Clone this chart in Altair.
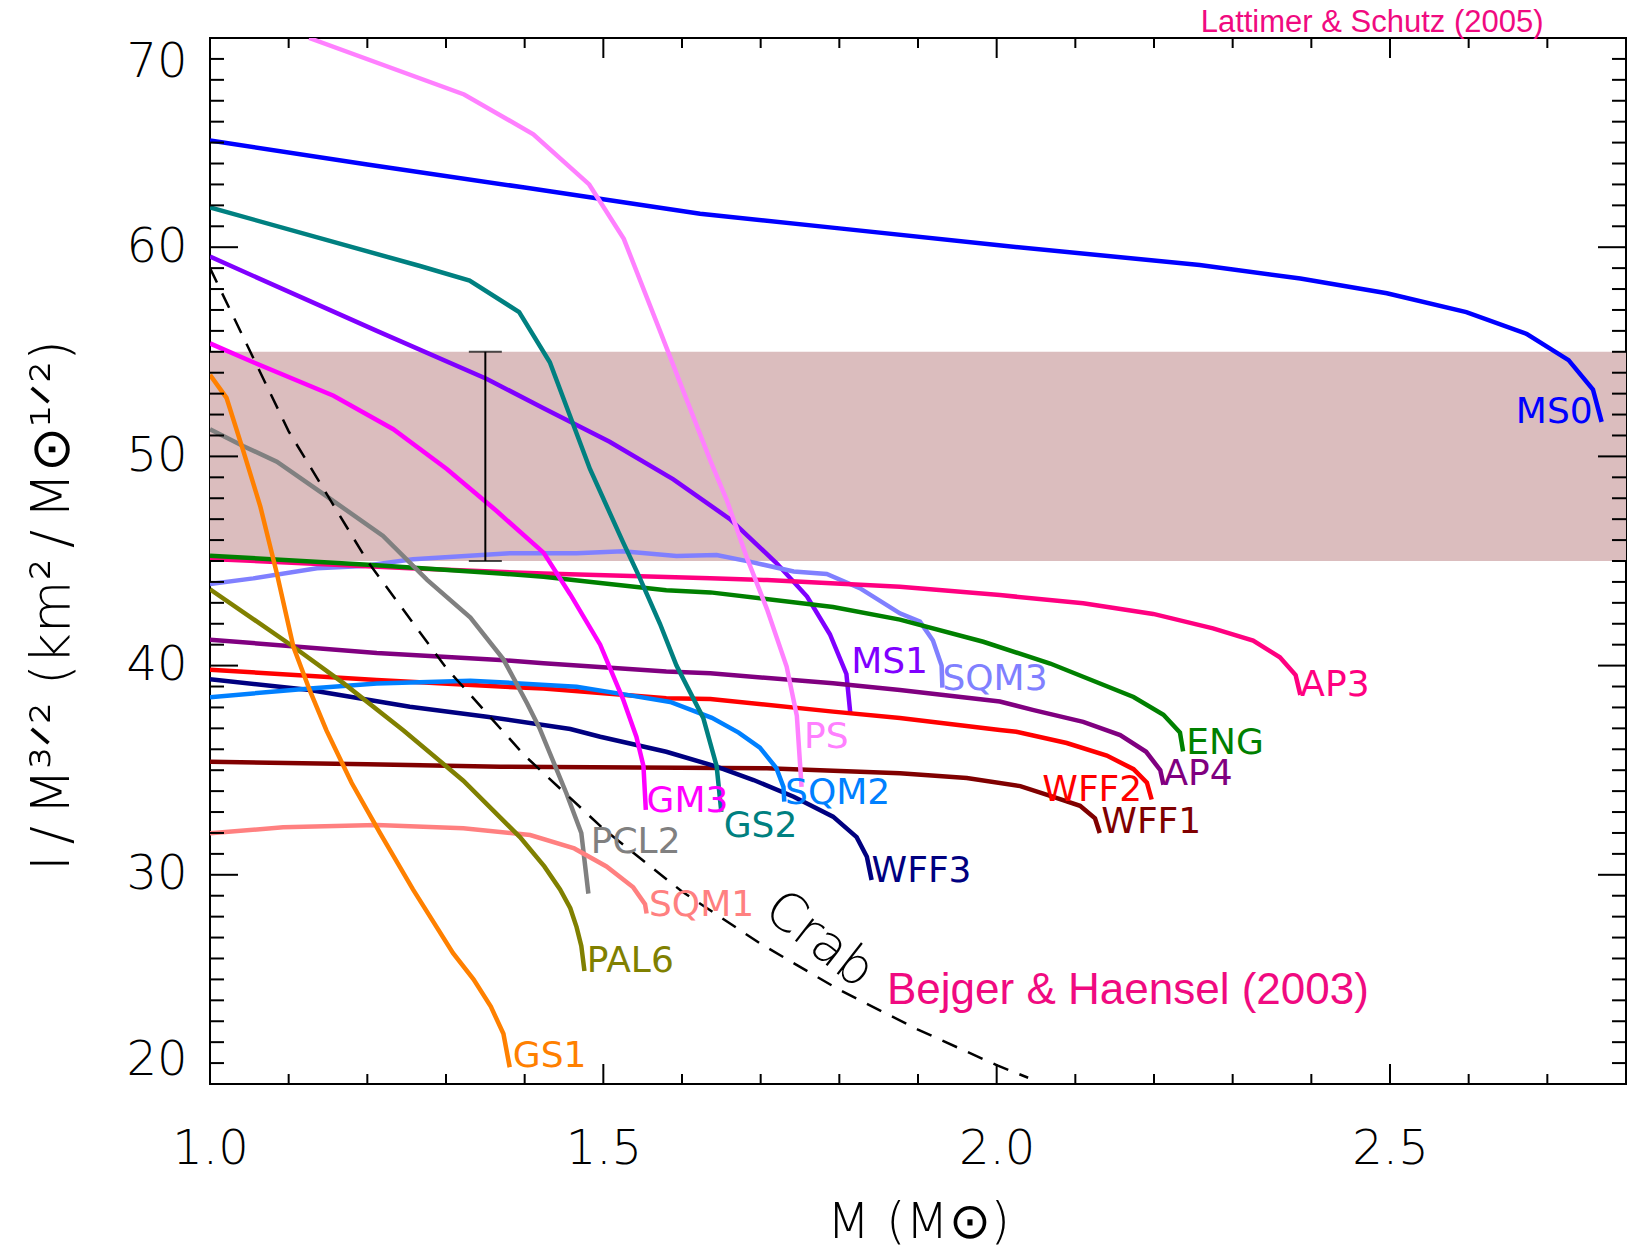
import altair as alt
import pandas as pd

# ---------------- data ----------------
MS0_M = [1.0, 1.2, 1.4, 1.623, 1.8, 2.0, 2.258, 2.386, 2.496, 2.597, 2.674, 2.727, 2.758, 2.769]
MS0_I = [65.1, 63.95, 62.85, 61.6, 60.9, 60.1, 59.15, 58.5, 57.8, 56.9, 55.85, 54.6, 53.2, 51.65]

MS1_M = [1.0, 1.212, 1.352, 1.424, 1.508, 1.589, 1.661, 1.72, 1.759, 1.788, 1.809, 1.814]
MS1_I = [59.55, 56.0, 53.7, 52.3, 50.7, 48.9, 47.0, 44.9, 43.3, 41.5, 39.6, 37.7]

GS2_M = [1.0, 1.267, 1.33, 1.393, 1.432, 1.483, 1.525, 1.545, 1.572, 1.593, 1.627, 1.644, 1.650]
GS2_I = [61.9, 59.1, 58.4, 56.9, 54.5, 49.4, 45.9, 44.3, 42.0, 40.0, 37.5, 35.2, 33.0]

PS_M = [1.126, 1.323, 1.411, 1.482, 1.526, 1.572, 1.636, 1.657, 1.682, 1.708, 1.733, 1.746, 1.752]
PS_I = [70.0, 67.3, 65.4, 63.0, 60.4, 56.0, 49.8, 47.9, 45.2, 42.7, 39.95, 37.6, 34.2]

GM3_M = [1.0, 1.055, 1.157, 1.233, 1.301, 1.364, 1.424, 1.458, 1.496, 1.525, 1.542, 1.551, 1.554]
GM3_I = [55.4, 54.5, 52.9, 51.3, 49.4, 47.4, 45.4, 43.4, 41.0, 38.4, 36.6, 35.2, 33.1]

GS1_M = [1.0, 1.021, 1.042, 1.064, 1.085, 1.106, 1.127, 1.148, 1.18, 1.216, 1.258, 1.309, 1.335, 1.357, 1.373, 1.381]
GS1_I = [53.9, 52.8, 50.3, 47.6, 44.4, 40.9, 38.8, 36.9, 34.4, 32.0, 29.3, 26.25, 25.0, 23.7, 22.4, 20.8]

PCL2_M = [1.0, 1.042, 1.085, 1.148, 1.22, 1.276, 1.331, 1.373, 1.403, 1.419, 1.453, 1.472, 1.481]
PCL2_I = [51.3, 50.5, 49.75, 48.1, 46.2, 44.1, 42.3, 40.3, 38.2, 37.0, 33.9, 32.0, 29.1]

PAL6_M = [1.0, 1.106, 1.17, 1.246, 1.322, 1.394, 1.425, 1.445, 1.458, 1.466, 1.472, 1.476]
PAL6_I = [43.65, 40.9, 39.15, 36.9, 34.5, 31.8, 30.4, 29.3, 28.4, 27.5, 26.6, 25.4]

SQM1_M = [1.0, 1.093, 1.212, 1.322, 1.407, 1.463, 1.504, 1.538, 1.553, 1.555]
SQM1_I = [31.98, 32.27, 32.38, 32.22, 31.9, 31.26, 30.4, 29.4, 28.6, 28.15]

SQM3_M = [1.0, 1.055, 1.136, 1.195, 1.258, 1.381, 1.466, 1.525, 1.593, 1.644, 1.686, 1.742, 1.784,
          1.826, 1.877, 1.9025, 1.919, 1.93, 1.931]
SQM3_I = [43.9, 44.17, 44.65, 44.76, 45.08, 45.37, 45.37, 45.47, 45.24, 45.29, 44.97, 44.5, 44.38,
          43.7, 42.5, 42.1, 41.2, 40.0, 38.95]

AP3_M = [1.0, 1.254, 1.424, 1.636, 1.708, 1.877, 2.004, 2.11, 2.199, 2.275, 2.326, 2.36, 2.38, 2.386]
AP3_I = [45.1, 44.65, 44.4, 44.17, 44.09, 43.77, 43.37, 42.98, 42.47, 41.78, 41.2, 40.4, 39.55, 38.6]

ENG_M = [1.0, 1.212, 1.369, 1.424, 1.58, 1.636, 1.792, 1.877, 1.983, 2.068, 2.174, 2.212, 2.233, 2.237]
ENG_I = [45.25, 44.8, 44.4, 44.25, 43.6, 43.5, 42.8, 42.2, 41.14, 40.1, 38.5, 37.65, 36.8, 35.9]

AP4_M = [1.0, 1.212, 1.369, 1.424, 1.58, 1.636, 1.792, 1.877, 2.004, 2.047, 2.11, 2.157, 2.19, 2.208, 2.212]
AP4_I = [41.24, 40.6, 40.27, 40.11, 39.72, 39.63, 39.16, 38.83, 38.28, 37.87, 37.31, 36.68, 35.88, 35.0, 34.3]

WFF2_M = [1.0, 1.212, 1.369, 1.424, 1.58, 1.636, 1.792, 1.877, 2.004, 2.025, 2.089, 2.14, 2.174, 2.191, 2.197]
WFF2_I = [39.8, 39.31, 39.0, 38.9, 38.44, 38.4, 37.8, 37.5, 36.92, 36.84, 36.3, 35.7, 35.05, 34.4, 33.6]

WFF3_M = [1.0, 1.127, 1.254, 1.352, 1.458, 1.496, 1.58, 1.644, 1.691, 1.742, 1.792, 1.822, 1.835, 1.841]
WFF3_I = [39.35, 38.83, 38.03, 37.56, 36.97, 36.6, 35.88, 35.17, 34.53, 33.73, 32.78, 31.8, 30.86, 29.75]

SQM2_M = [1.0, 1.127, 1.212, 1.331, 1.394, 1.466, 1.53, 1.585, 1.638, 1.672, 1.699, 1.72, 1.729, 1.73]
SQM2_I = [38.49, 38.91, 39.15, 39.28, 39.15, 38.99, 38.6, 38.26, 37.5, 36.8, 36.08, 35.1, 34.2, 33.5]

WFF1_M = [1.0, 1.2, 1.369, 1.708, 1.877, 1.962, 2.03, 2.072, 2.106, 2.125, 2.131]
WFF1_I = [35.4, 35.28, 35.17, 35.09, 34.85, 34.63, 34.24, 33.73, 33.3, 32.7, 32.0]

CRAB_M = [1.0, 1.1, 1.2, 1.3, 1.4, 1.5, 1.6, 1.7, 1.8, 1.9, 2.0, 2.04]
CRAB_I = [59.0, 51.2, 45.0, 39.9, 35.7, 32.2, 29.2, 26.7, 24.5, 22.6, 20.9, 20.3]

BAND_LO = [45.0]
BAND_HI = [55.0]
ERR_M = [1.35]

eos_names = ["MS0", "MS1", "SQM3", "AP3", "ENG", "AP4", "WFF2", "WFF1", "WFF3", "SQM2",
             "PS", "GM3", "GS2", "PCL2", "SQM1", "PAL6", "GS1"]
eos_colors = ["#0000ff", "#8000ff", "#8080ff", "#ff0080", "#008000", "#800080", "#ff0000",
              "#800000", "#000080", "#0080ff", "#ff80ff", "#ff00ff", "#008080", "#808080",
              "#ff8080", "#808000", "#ff8000"]

label_M = [2.660, 1.815, 1.931, 2.386, 2.241, 2.212, 2.058, 2.133, 1.841, 1.731,
           1.755, 1.555, 1.653, 1.484, 1.558, 1.479, 1.385]
label_I = [51.58, 39.66, 38.83, 38.55, 35.77, 34.29, 33.54, 31.98, 29.67, 33.38,
           36.05, 33.02, 31.82, 31.03, 28.03, 25.37, 20.8]

x_major = [1.0, 1.5, 2.0, 2.5]
x_minor = [1.1, 1.2, 1.3, 1.4, 1.6, 1.7, 1.8, 1.9, 2.1, 2.2, 2.3, 2.4, 2.6, 2.7]
y_major = [20, 30, 40, 50, 60, 70]
y_minor = [v for v in range(21, 70) if v % 10 != 0]

# ---------------- build ----------------
curves = {
    "MS0": (MS0_M, MS0_I), "MS1": (MS1_M, MS1_I), "SQM3": (SQM3_M, SQM3_I),
    "AP3": (AP3_M, AP3_I), "ENG": (ENG_M, ENG_I), "AP4": (AP4_M, AP4_I),
    "WFF2": (WFF2_M, WFF2_I), "WFF1": (WFF1_M, WFF1_I), "WFF3": (WFF3_M, WFF3_I),
    "SQM2": (SQM2_M, SQM2_I), "PS": (PS_M, PS_I), "GM3": (GM3_M, GM3_I),
    "GS2": (GS2_M, GS2_I), "PCL2": (PCL2_M, PCL2_I), "SQM1": (SQM1_M, SQM1_I),
    "PAL6": (PAL6_M, PAL6_I), "GS1": (GS1_M, GS1_I),
}
rows = []
for name, (ms, ii) in curves.items():
    for k, (m, i) in enumerate(zip(ms, ii)):
        rows.append({"eos": name, "M": m, "I": i, "k": k})
df = pd.DataFrame(rows)
crab_df = pd.DataFrame({"M": CRAB_M, "I": CRAB_I, "k": list(range(len(CRAB_M)))})
lab_df = pd.DataFrame({"eos": eos_names, "M": label_M, "I": label_I})

W, H = 1416, 1046
FONT = "DejaVu Sans"
xs = alt.Scale(domain=[1.0, 2.8], nice=False, zero=False)
ys = alt.Scale(domain=[20, 70], nice=False, zero=False)
cs = alt.Scale(domain=eos_names, range=eos_colors)

x_axis = alt.Axis(values=x_major, format=".1f", labelFontSize=48, labelFont=FONT,
                  labelFontWeight=200, labelPadding=41, labelFlush=False, labelColor="black",
                  labelOverlap=False, ticks=False, domain=False, grid=False,
                  title="M  (M⊙)", titleFont=FONT, titleFontSize=50, titleFontWeight=200,
                  titleColor="black", titleY=153, titleBaseline="alphabetic")
y_axis = alt.Axis(values=y_major, labelFontSize=48, labelFont=FONT, labelFontWeight=200,
                  labelPadding=23, labelFlush=True, labelColor="black", labelOverlap=False,
                  ticks=False, domain=False, grid=False,
                  title="I\u2009/\u2009M³ᐟ²   (km²\u2009/\u2009M⊙¹ᐟ²)", titleFont=FONT, titleFontSize=54,
                  titleFontWeight=200, titleColor="black", titleAngle=270, titleX=-142,
                  titleY=567, titleAlign="center", titleBaseline="alphabetic")


def X(field):
    return alt.X(field, scale=xs, axis=x_axis)


def Y(field):
    return alt.Y(field, scale=ys, axis=y_axis)


band = alt.Chart(pd.DataFrame({"lo": BAND_LO, "hi": BAND_HI})).mark_rect(color="#dbbdbe").encode(
    x=alt.value(0), x2=alt.value(W), y=Y("lo:Q"), y2="hi:Q")

lines = alt.Chart(df).mark_line(strokeWidth=4.5, clip=True, strokeCap="butt").encode(
    x=X("M:Q"), y=Y("I:Q"),
    color=alt.Color("eos:N", scale=cs, legend=None),
    detail="eos:N", order="k:Q")

err = alt.Chart(pd.DataFrame({"m": ERR_M, "lo": BAND_LO, "hi": BAND_HI})).mark_rule(
    color="black", strokeWidth=2).encode(x=X("m:Q"), y=Y("lo:Q"), y2="hi:Q")
caps = alt.Chart(pd.DataFrame({"m": ERR_M * 2, "v": BAND_LO + BAND_HI})).mark_tick(
    orient="horizontal", size=33, thickness=2, color="black").encode(x=X("m:Q"), y=Y("v:Q"))

crab = alt.Chart(crab_df).mark_line(color="black", strokeWidth=2.5, strokeDash=[16, 12], clip=True).encode(
    x=X("M:Q"), y=Y("I:Q"), order="k:Q")

labels = alt.Chart(lab_df).mark_text(align="left", baseline="alphabetic", fontSize=36,
                                     font=FONT).encode(
    x=X("M:Q"), y=Y("I:Q"), text="eos:N", color=alt.Color("eos:N", scale=cs, legend=None))

notes = pd.DataFrame({"M": [1.775], "I": [26.9], "t": ["Crab"]})
crab_txt = alt.Chart(notes).mark_text(angle=38, fontSize=52, font=FONT, fontWeight=200,
                                      color="black", align="center", baseline="middle").encode(
    x=X("M:Q"), y=Y("I:Q"), text="t:N")

refs = pd.DataFrame({"M": [1.8606, 2.2593], "I": [23.82, 70.29],
                     "t": ["Bejger & Haensel (2003)", "Lattimer & Schutz (2005)"],
                     "s": [44, 31]})
ref_txt = alt.Chart(refs).mark_text(align="left", baseline="alphabetic", font="Liberation Sans",
                                    color="#f00a80").encode(
    x=X("M:Q"), y=Y("I:Q"), text="t:N",
    size=alt.Size("s:Q", scale=None, legend=None))


def xticks(vals, length, top):
    enc = dict(y=alt.value(0), y2=alt.value(length)) if top else dict(y=alt.value(H), y2=alt.value(H - length))
    return alt.Chart(pd.DataFrame({"v": vals})).mark_rule(color="black", strokeWidth=2).encode(
        x=X("v:Q"), **enc)


def yticks(vals, length, right):
    enc = dict(x=alt.value(W), x2=alt.value(W - length)) if right else dict(x=alt.value(0), x2=alt.value(length))
    return alt.Chart(pd.DataFrame({"v": vals})).mark_rule(color="black", strokeWidth=2).encode(
        y=Y("v:Q"), **enc)


ticks = [xticks(x_major, 20, False), xticks(x_minor, 10, False),
         xticks(x_major, 20, True), xticks(x_minor, 10, True),
         yticks(y_major, 28, False), yticks(y_minor, 14, False),
         yticks(y_major, 28, True), yticks(y_minor, 14, True)]

chart = alt.layer(band, lines, err, caps, crab, labels, crab_txt, ref_txt, *ticks).properties(
    width=W, height=H,
    autosize=alt.AutoSizeParams(type="none"),
    padding={"left": 210, "top": 38, "right": 9, "bottom": 169},
    background="white",
).configure_view(stroke="black", strokeWidth=2)

chart.save("out.html", embed_options={"renderer": "svg", "actions": False})
